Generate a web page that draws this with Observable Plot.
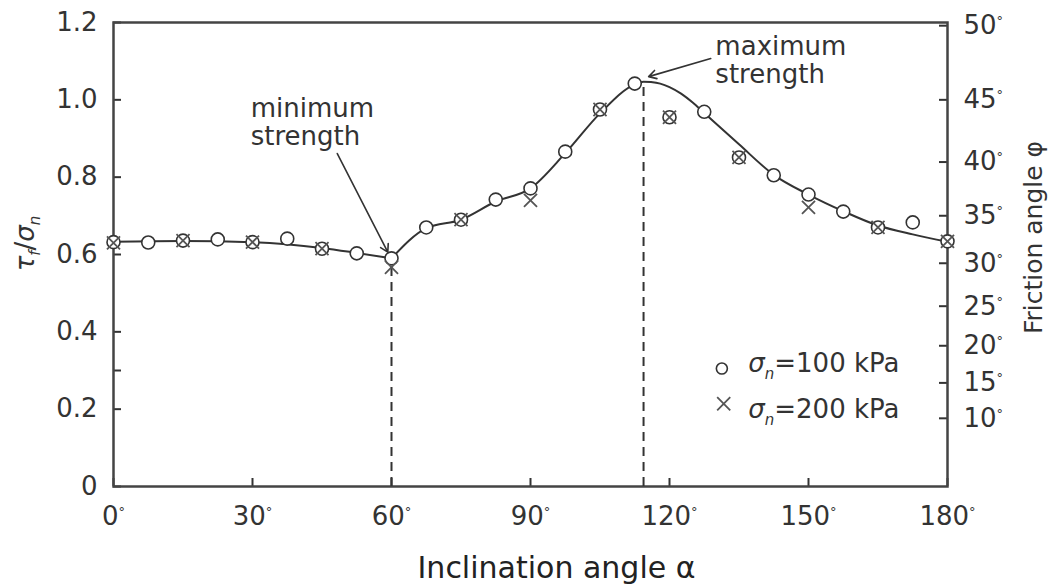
<!DOCTYPE html>
<html>
<head>
<meta charset="utf-8">
<script src="https://cdn.jsdelivr.net/npm/d3@7"></script>
<script src="https://cdn.jsdelivr.net/npm/@observablehq/plot@0.6"></script>
<style>
  html, body { margin: 0; padding: 0; background: #fff; }
  #chart svg { display: block; }
</style>
</head>
<body>
<div id="chart"></div>
<script>
// ---------- data ----------
const anglesLow = [0, 7.5, 15, 22.5, 30, 37.5, 45, 52.5, 60, 67.5, 75, 82.5, 90, 97.5, 105, 112.5, 120, 127.5, 135, 142.5, 150, 157.5, 165, 172.5, 180];
const ratioLow  = [0.632, 0.631, 0.636, 0.639, 0.632, 0.641, 0.615, 0.603, 0.590, 0.670, 0.690, 0.742, 0.771, 0.866, 0.975, 1.042, 0.955, 0.969, 0.851, 0.805, 0.755, 0.711, 0.670, 0.683, 0.634];
const anglesHigh = [0, 15, 30, 45, 60, 75, 90, 105, 120, 135, 150, 165, 180];
const ratioHigh  = [0.630, 0.636, 0.632, 0.615, 0.567, 0.690, 0.740, 0.975, 0.955, 0.851, 0.722, 0.670, 0.634];
const curveSegment = ["a","a","a","a","a","a", "b","b","b","b","b","b","b","b","b","b","b","b","b","b","b","b","b","b","b","b","b","b"];
const curveAngles = [0, 15, 30, 45, 52.5, 60, 60, 67.5, 75, 82.5, 90, 97.5, 105, 112.5, 114.4, 116, 118, 120, 122.5, 125, 127.5, 135, 142.5, 150, 157.5, 165, 172.5, 180];
const curveRatio  = [0.633, 0.635, 0.632, 0.617, 0.604, 0.590, 0.590, 0.668, 0.690, 0.737, 0.771, 0.862, 0.965, 1.040, 1.047, 1.046, 1.042, 1.033, 1.016, 0.993, 0.966, 0.885, 0.806, 0.755, 0.712, 0.675, 0.652, 0.633];
const strengthAngles = [60, 114.4];
const strengthRatios = [0.590, 1.047];
const annotationLabels = ["minimum\nstrength", "maximum\nstrength"];
const xTicks = [0, 30, 60, 90, 120, 150, 180];
const yTicks = [0, 0.2, 0.4, 0.6, 0.8, 1.0, 1.2];
const yExtraTicks = [0.3];
const phiTicks = [10, 15, 20, 25, 30, 35, 40, 45, 50];
const legendLabels = ["σn=100 kPa", "σn=200 kPa"];
const xLabel = "Inclination angle α";
const yLabel = "τf/σn";
const y2Label = "Friction angle φ";

// ---------- tables ----------
const low = anglesLow.map((a, i) => ({a, r: ratioLow[i]}));
const high = anglesHigh.map((a, i) => ({a, r: ratioHigh[i]}));
const curve = curveAngles.map((a, i) => ({a, r: curveRatio[i], s: curveSegment[i]}));
const strength = strengthAngles.map((a, i) => ({a, r: strengthRatios[i]}));
const phiPos = phiTicks.map(p => Math.tan(p * Math.PI / 180));

const W = 1052, H = 585;
const mL = 113, mR = 105, mT = 22, mB = 99;
const degPerPx = 180 / (W - mL - mR);
const unitPerPx = 1.2 / (H - mT - mB);
const tick = 8;
const ink = "#333";

const chart = Plot.plot({
  width: W, height: H,
  marginLeft: mL, marginRight: mR, marginTop: mT, marginBottom: mB,
  x: {domain: [0, 180]},
  y: {domain: [0, 1.2]},
  style: {fontFamily: "DejaVu Sans", fontSize: "26px", color: ink, background: "#fff", overflow: "visible"},
  marks: [
    Plot.axisX(xTicks, {tickSize: 0, tickPadding: 20, tickFormat: d => d + "°", label: null, fontSize: 26}),
    Plot.axisY(yTicks, {tickSize: 0, tickPadding: 16, tickFormat: d => d === 0 ? "0" : d.toFixed(1), label: null, fontSize: 26}),
    Plot.axisY(phiPos, {anchor: "right", tickSize: 0, tickPadding: 16, label: null, fontSize: 26,
      tickFormat: d => Math.round(Math.atan(d) * 180 / Math.PI) + "°"}),
    // inward ticks
    Plot.ruleY(yTicks.concat(yExtraTicks), {x1: 0, x2: tick * degPerPx, stroke: ink, strokeWidth: 2}),
    Plot.ruleY(phiPos, {x1: 180 - tick * degPerPx, x2: 180, stroke: ink, strokeWidth: 2}),
    Plot.ruleX(xTicks, {y1: 0, y2: tick * unitPerPx, stroke: ink, strokeWidth: 2}),
    Plot.frame({stroke: "#444", strokeWidth: 2.5}),
    // dashed markers
    Plot.ruleX(strength, {x: "a", y1: 0, y2: "r", stroke: ink, strokeWidth: 2, strokeDasharray: "9,6"}),
    // fitted curve
    Plot.line(curve, {x: "a", y: "r", z: "s", curve: "monotone-x", stroke: ink, strokeWidth: 2}),
    // data
    Plot.dot(low, {x: "a", y: "r", r: 6.5, fill: "white", stroke: ink, strokeWidth: 1.6}),
    Plot.dot(high, {x: "a", y: "r", symbol: "times", r: 6, stroke: "#555", strokeWidth: 1.8}),
    // annotations
    Plot.arrow([0], {x1: 48.3, y1: 0.861, x2: 59.2, y2: 0.606, stroke: ink, strokeWidth: 1.6, headLength: 8}),
    Plot.arrow([0], {x1: 128.9, y1: 1.107, x2: 115.5, y2: 1.060, stroke: ink, strokeWidth: 1.6, headLength: 8}),
    Plot.text([annotationLabels[0]], {x: 29.6, y: 1.008, text: d => d, textAnchor: "start", lineAnchor: "top", lineHeight: 1.08, fontSize: 26, fill: ink}),
    Plot.text([annotationLabels[1]], {x: 129.9, y: 1.169, text: d => d, textAnchor: "start", lineAnchor: "top", lineHeight: 1.1, fontSize: 26, fill: ink}),
    // legend
    Plot.dot([0], {x: 131.3, y: 0.305, r: 5.5, fill: "white", stroke: ink, strokeWidth: 1.6}),
    Plot.dot([0], {x: 131.7, y: 0.214, symbol: "times", r: 6, stroke: "#555", strokeWidth: 1.8}),
    Plot.text([legendLabels[0]], {x: 137, y: 0.318, text: d => d, textAnchor: "start", fontSize: 26, fill: ink}),
    Plot.text([legendLabels[1]], {x: 137, y: 0.199, text: d => d, textAnchor: "start", fontSize: 26, fill: ink}),
    // axis titles
    Plot.text([xLabel], {frameAnchor: "bottom", textAnchor: "middle", lineAnchor: "middle", dy: 82, dx: 26, text: d => d, fontSize: 30, fill: "#222"}),
    Plot.text([yLabel], {frameAnchor: "left", textAnchor: "middle", dx: -88, dy: -11, rotate: -90, text: d => d, fontSize: 26, fill: ink}),
    Plot.text([y2Label], {frameAnchor: "right", textAnchor: "middle", dx: 86, dy: -17, rotate: -90, text: d => d, fontSize: 25, fill: ink})
  ]
});

document.getElementById("chart").append(chart);

// ---------- rich text (sub/superscripts) ----------
function rich(el, parts) {
  const sel = d3.select(el);
  sel.text(null);
  let shift = 0;
  for (const p of parts) {
    const ts = sel.append("tspan").text(p.t);
    const target = p.sub ? p.sub : (p.sup ? -p.sup : 0);
    if (target !== shift) { ts.attr("dy", (target - shift) + "px"); shift = target; }
    if (p.size) ts.attr("font-size", p.size);
    if (p.italic) ts.attr("font-style", "italic");
  }
}
d3.select(chart).selectAll("text").each(function () {
  const s = this.textContent;
  if (this.querySelector("tspan")) return;
  if (/^\d+°$/.test(s)) {
    rich(this, [{t: s.slice(0, -1)}, {t: "°", size: "13px", sup: 9}]);
  } else if (s === yLabel) {
    rich(this, [{t: "τ", italic: true}, {t: "f", italic: true, size: "15px", sub: 6}, {t: "/"}, {t: "σ", italic: true}, {t: "n", italic: true, size: "15px", sub: 6}]);
  } else if (s === legendLabels[0] || s === legendLabels[1]) {
    rich(this, [{t: "σ", italic: true}, {t: "n", italic: true, size: "15px", sub: 7}, {t: s.slice(2)}]);
  }
});
</script>
</body>
</html>
